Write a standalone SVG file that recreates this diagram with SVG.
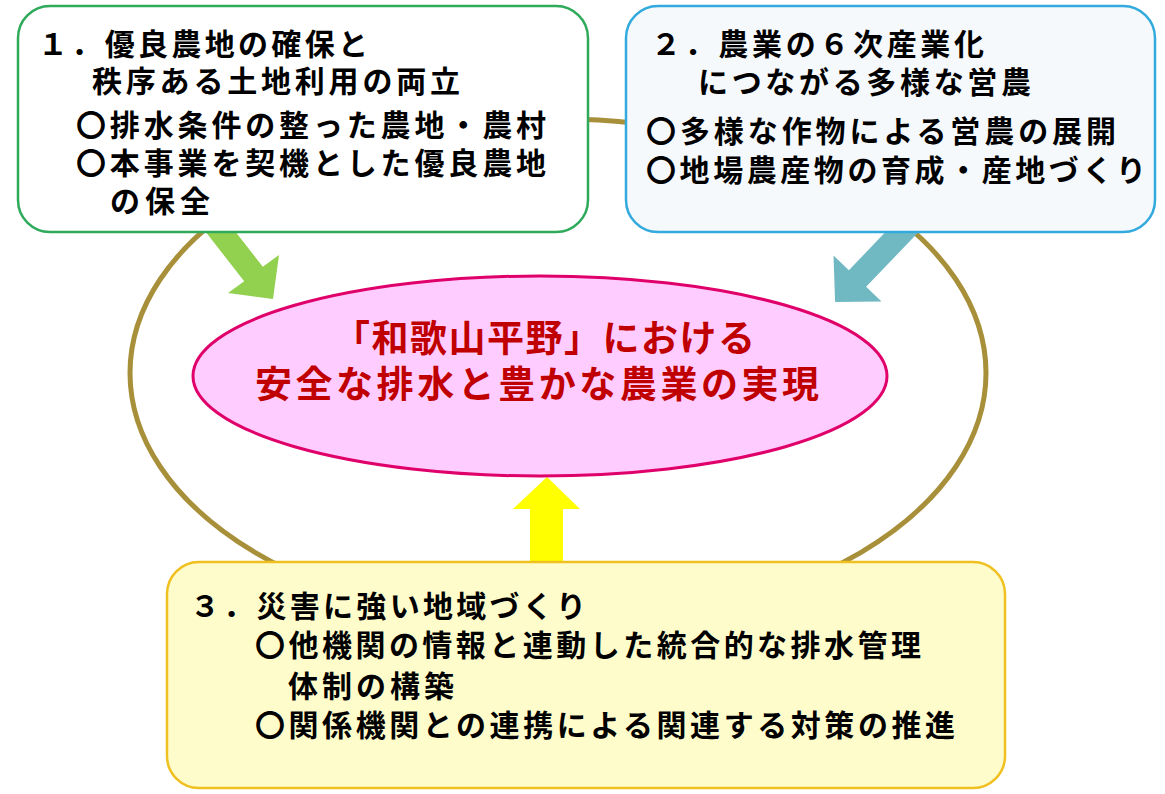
<svg xmlns="http://www.w3.org/2000/svg" width="1165" height="794" viewBox="0 0 1165 794">
<style>
.t{font-family:"Noto Sans CJK JP","Noto Sans CJK SC",sans-serif;font-size:30px;font-weight:bold;fill:#000}
.c{font-family:"Noto Sans CJK JP","Noto Sans CJK SC",sans-serif;font-size:37px;font-weight:bold;fill:#c00000}
.box{stroke-width:2.5}
</style>
<rect width="1165" height="794" fill="#ffffff"/>
<g id="connectors">
<ellipse cx="558" cy="373" rx="428" ry="254" fill="none" stroke="#a8903a" stroke-width="5"/>
<polygon points="219.7,211.5 262.8,266.7 279,255 273,299 228,293 244.2,281.3 201.1,226.1" fill="#92d050"/>
<polygon points="904.1,212.6 848.9,270.2 833.5,255.5 835.1,301.9 881.5,301.5 866.1,286.8 921.3,229.2" fill="#70b9c3"/>
<polygon points="530,570 530,509 513,509 547,477 580,509 563,509 563,570" fill="#ffff00"/>
</g>
<g id="box1">
<rect class="box" x="18" y="6" width="570" height="226" rx="32" fill="#ffffff" stroke="#2eaa5a"/>
<text class="t" x="38" y="55" textLength="330">１．優良農地の確保と</text>
<text class="t" x="92" y="92" textLength="368">秩序ある土地利用の両立</text>
<text class="t" x="76" y="136" textLength="470">〇排水条件の整った農地・農村</text>
<text class="t" x="76" y="174" textLength="470">〇本事業を契機とした優良農地</text>
<text class="t" x="110" y="212" textLength="100">の保全</text>
</g>
<g id="box2">
<rect class="box" x="626" y="6" width="529" height="226" rx="32" fill="#f5f9fc" stroke="#33aadd"/>
<text class="t" x="651" y="55" textLength="333">２．農業の６次産業化</text>
<text class="t" x="698" y="93" textLength="333">につながる多様な営農</text>
<text class="t" x="646" y="142" textLength="470">〇多様な作物による営農の展開</text>
<text class="t" x="646" y="181" textLength="500">〇地場農産物の育成・産地づくり</text>
</g>
<g id="box3">
<rect class="box" x="167" y="562" width="838" height="226" rx="32" fill="#fffccc" stroke="#f0c020"/>
<text class="t" x="190" y="617" textLength="396">３．災害に強い地域づくり</text>
<text class="t" x="255" y="656" textLength="666">〇他機関の情報と連動した統合的な排水管理</text>
<text class="t" x="288" y="697" textLength="166">体制の構築</text>
<text class="t" x="255" y="736" textLength="700">〇関係機関との連携による関連する対策の推進</text>
</g>
<g id="center">
<ellipse cx="540" cy="376" rx="347" ry="100" fill="#ffccff" stroke="#e0006a" stroke-width="3"/>
<text class="c" x="333" y="352" textLength="422">「和歌山平野」における</text>
<text class="c" x="255" y="398" textLength="564">安全な排水と豊かな農業の実現</text>
</g>
</svg>
